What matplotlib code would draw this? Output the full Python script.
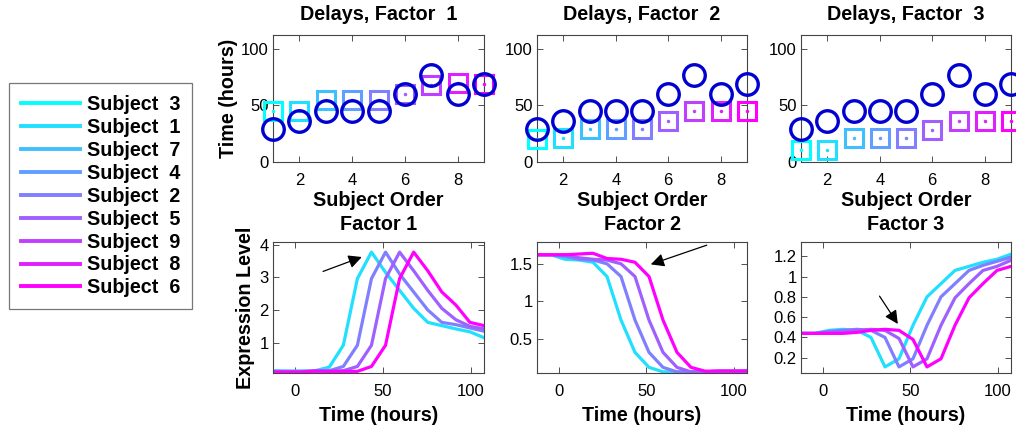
import numpy as np
import matplotlib
matplotlib.use("Agg")
import matplotlib.pyplot as plt

plt.rcParams['font.family'] = ['Liberation Sans', 'DejaVu Sans']

# legend order (subject order 1..9)
subjects = [3, 1, 7, 4, 2, 5, 9, 8, 6]
order = [1, 2, 3, 4, 5, 6, 7, 8, 9]

# circles: same in all three panels
circ_delay = [29, 36, 45, 45, 45, 60, 77, 60, 69]
# squares: per factor
sq_f1 = [45, 45, 55, 55, 55, 60, 68, 70, 69]
sq_f2 = [20, 21, 29, 29, 29, 36, 45, 45, 45]
sq_f3 = [11, 11, 21, 21, 21, 28, 36, 36, 36]

# time points (hours)
t = [-12.5, -4.5, 3.5, 11.5, 19.5, 27.5, 35.5, 43.5, 51.5, 59.5,
     67.5, 75.5, 83.5, 91.5, 99.5, 107.5]

# expression curves, one per delay group (subject order 2, 5, 6, 9)
curve_idx = [1, 4, 5, 8]
f1_curves = [
    [0.14, 0.13, 0.13, 0.14, 0.25, 0.92, 2.96, 3.77, 3.15, 2.60, 2.05, 1.62, 1.52, 1.42, 1.33, 1.15],
    [0.12, 0.12, 0.12, 0.13, 0.14, 0.27, 0.92, 2.96, 3.77, 3.10, 2.55, 2.00, 1.62, 1.55, 1.45, 1.35],
    [0.10, 0.10, 0.10, 0.12, 0.12, 0.14, 0.27, 0.92, 2.96, 3.77, 3.20, 2.60, 2.05, 1.70, 1.50, 1.42],
    [0.10, 0.10, 0.10, 0.13, 0.12, 0.12, 0.12, 0.27, 0.92, 2.96, 3.77, 3.20, 2.55, 2.15, 1.62, 1.52],
]
f2_curves = [
    [1.62, 1.62, 1.56, 1.55, 1.52, 1.33, 0.75, 0.32, 0.12, 0.06, 0.06, 0.06, 0.06, 0.07, 0.07, 0.08],
    [1.62, 1.62, 1.60, 1.56, 1.55, 1.50, 1.33, 0.75, 0.32, 0.12, 0.06, 0.06, 0.06, 0.07, 0.07, 0.07],
    [1.62, 1.62, 1.62, 1.58, 1.56, 1.55, 1.50, 1.33, 0.75, 0.32, 0.12, 0.06, 0.06, 0.07, 0.07, 0.07],
    [1.62, 1.62, 1.62, 1.63, 1.64, 1.57, 1.56, 1.52, 1.33, 0.75, 0.32, 0.12, 0.07, 0.07, 0.07, 0.07],
]
f3_curves = [
    [0.44, 0.44, 0.47, 0.48, 0.47, 0.40, 0.11, 0.19, 0.52, 0.80, 0.93, 1.06, 1.10, 1.14, 1.17, 1.22],
    [0.44, 0.44, 0.46, 0.47, 0.48, 0.47, 0.40, 0.11, 0.19, 0.52, 0.80, 0.93, 1.06, 1.11, 1.15, 1.19],
    [0.44, 0.44, 0.45, 0.46, 0.47, 0.48, 0.47, 0.39, 0.11, 0.19, 0.52, 0.79, 0.93, 1.06, 1.10, 1.16],
    [0.44, 0.44, 0.44, 0.44, 0.45, 0.47, 0.48, 0.47, 0.38, 0.11, 0.19, 0.52, 0.79, 0.93, 1.06, 1.10],
]

colors = plt.cm.cool(np.linspace(0, 1, 9))
W, H = 1016, 428
fig = plt.figure(figsize=(W / 100, H / 100), dpi=100)

def px_axes(x0, y0, x1, y1):
    return fig.add_axes([x0 / W, 1 - y1 / H, (x1 - x0) / W, (y1 - y0) / H])

def style(ax):
    ax.tick_params(direction='in', top=True, right=True, length=4, width=0.6,
                   labelsize=12, colors='#333333', labelcolor='black', pad=3)
    ax.tick_params(axis='x', pad=8)
    for s in ax.spines.values():
        s.set_color('#444444')
        s.set_linewidth(0.8)

lab = dict(fontsize=14.2, fontweight='bold')
top_x = [(273, 484), (537, 747), (801, 1011)]
bot_x = [(273, 484), (537, 747), (801, 1011)]

# ---- top row: delays
for k, sq in enumerate([sq_f1, sq_f2, sq_f3]):
    ax = px_axes(top_x[k][0], 35, top_x[k][1], 162)
    for i in range(9):
        ax.plot(order[i], sq[i], 's', ms=13, mfc='none', mec=colors[i], mew=2.2, clip_on=False, zorder=3)
        ax.plot(order[i], sq[i], '.', ms=3, color=colors[i], clip_on=False, zorder=3)
    ax.plot(order, circ_delay, 'o', ms=15.5, mfc='none', mec='#0000d0', mew=2.4, clip_on=False, zorder=4)
    ax.set_xlim(1, 9)
    ax.set_ylim(0, 112)
    ax.set_xticks([2, 4, 6, 8])
    ax.set_yticks([0, 50, 100])
    ax.set_title('Delays, Factor  %d' % (k + 1), pad=11, **lab)
    style(ax)
    ax.set_xlabel('Subject Order', labelpad=2, **lab)
    if k == 0:
        ax.set_ylabel('Time (hours)', labelpad=2, **lab)

# ---- bottom row: expression
ylims = [(0.07, 4.08), (0.045, 1.79), (0.05, 1.34)]
yticks = [[1, 2, 3, 4], [0.5, 1, 1.5], [0.2, 0.4, 0.6, 0.8, 1, 1.2]]
ylabs = [['1', '2', '3', '4'], ['0.5', '1', '1.5'], ['0.2', '0.4', '0.6', '0.8', '1', '1.2']]
arrows = [((14.5, 3.15), (39.5, 3.65)), ((86, 1.76), (51, 1.48)), ((31.5, 0.83), (43.7, 0.51))]
for k, curves in enumerate([f1_curves, f2_curves, f3_curves]):
    ax = px_axes(bot_x[k][0], 242, bot_x[k][1], 373)
    for j, c in enumerate(curves):
        ax.plot(t, c, '-', color=colors[curve_idx[j]], lw=2.3)
    ax.set_xlim(t[0], t[-1])
    ax.set_ylim(*ylims[k])
    ax.set_xticks([0, 50, 100])
    ax.set_yticks(yticks[k])
    ax.set_yticklabels(ylabs[k])
    ax.set_title('Factor %d' % (k + 1), pad=9, **lab)
    style(ax)
    ax.set_xlabel('Time (hours)', labelpad=5, **lab)
    if k == 0:
        ax.set_ylabel('Expression Level', labelpad=3, **lab)
    tail, head = arrows[k]
    ax.annotate('', xy=head, xytext=tail,
                arrowprops=dict(arrowstyle='-|>', color='black', lw=0.9, mutation_scale=20))

# ---- legend
handles = [plt.Line2D([], [], color=colors[i], lw=2.8) for i in range(9)]
labels = ['Subject  %d' % s for s in subjects]
leg = fig.legend(handles, labels, loc='upper left', bbox_to_anchor=(9 / W, 1 - 83 / H),
                 borderaxespad=0, frameon=True, fancybox=False, handlelength=3.0,
                 handletextpad=0.35, labelspacing=0.2, borderpad=0.6,
                 prop=dict(family='Liberation Sans', weight='bold', size=14.2))
leg.get_frame().set_edgecolor('#555555')
leg.get_frame().set_linewidth(0.9)

fig.savefig('out.png', dpi=100)
